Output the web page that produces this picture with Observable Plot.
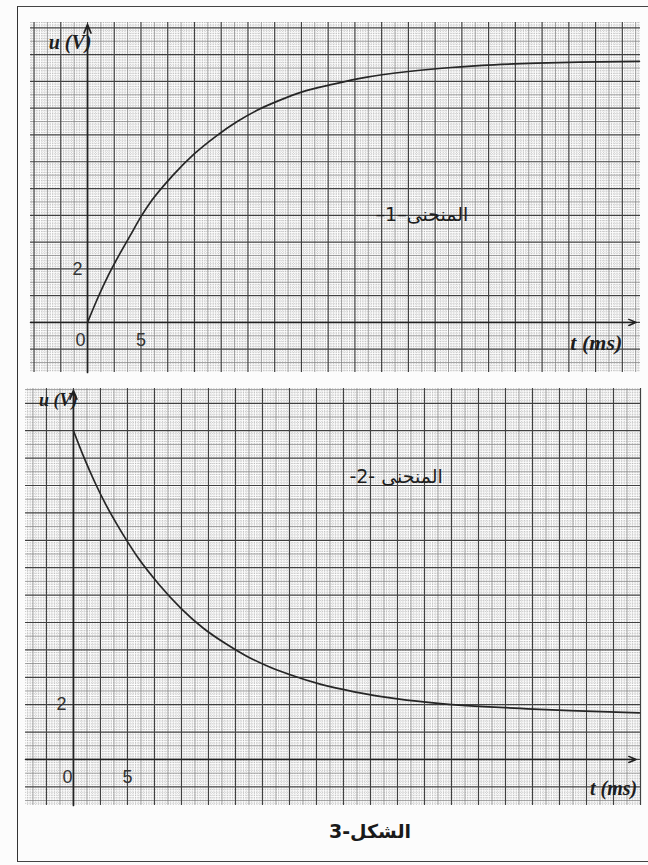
<!DOCTYPE html>
<html>
<head>
<meta charset="utf-8">
<script src="https://cdn.jsdelivr.net/npm/d3@7"></script>
<script src="https://cdn.jsdelivr.net/npm/@observablehq/plot@0.6"></script>
<style>
  body { margin: 0; background: #fff; }
  #page { position: relative; width: 648px; height: 865px; overflow: hidden; background: #fcfcfc; }
  #frame { position: absolute; left: 17px; top: 6px; width: 640px; height: 854px;
           border-left: 1.5px solid #333; border-top: 1.5px solid #444; border-bottom: 1.5px solid #444; }
  #topPanel { position: absolute; left: 0; top: 0; }
  #bottomPanel { position: absolute; left: 0; top: 380px; }
  #title { position: absolute; left: 270px; width: 200px; top: 820px; text-align: center;
           font: bold 19px "DejaVu Sans", sans-serif; color: #1a1a1a; }
</style>
</head>
<body>
<div id="page">
  <div id="frame"></div>
  <div id="topPanel"></div>
  <div id="bottomPanel"></div>
  <div id="title" dir="rtl">الشكل-3</div>
</div>
<script>
// ---- data ----
// Curve 1 (rising): time in ms, voltage in V
const t1 = [0, 1, 2, 3, 4, 5, 6, 8, 10, 12, 14, 16, 18, 20, 23, 26, 30, 34, 38, 42, 46, 51.6];
const u1 = [0, 0.95, 1.8, 2.55, 3.25, 3.95, 4.55, 5.5, 6.3, 6.95, 7.5, 7.95, 8.3, 8.6, 8.9, 9.15, 9.37, 9.52, 9.62, 9.68, 9.72, 9.75];
// Curve 2 (falling)
const t2 = [0, 1, 2, 3, 4, 5, 6, 8, 10, 12, 14, 16, 18, 20, 23, 26, 30, 34, 38, 42, 46, 52.4];
const u2 = [12.0, 11.0, 10.1, 9.3, 8.6, 7.95, 7.35, 6.35, 5.5, 4.8, 4.25, 3.78, 3.4, 3.1, 2.73, 2.47, 2.21, 2.04, 1.93, 1.85, 1.78, 1.70];
// tick labels
const xTicks = [0, 5];
const yTicks = [2];
const curveNames = ["المنحنى–1–", "المنحنى -2-"];
const yLabel = "u (V)";
const xLabel = "t (ms)";

function range(lo, hi, step) {
  return d3.range(Math.ceil(lo / step - 1e-9), Math.floor(hi / step + 1e-9) + 1).map(i => +(i * step).toFixed(6));
}

function panel({t, u, xDomain, yDomain, width, height, mt, mr, mb, ml, name, namePos, nameFont, uLabelPos, uFont, tLabelPos, tFont, zeroDx, yTickDx}) {
  const pts = t.map((d, i) => ({t: d, u: u[i]}));
  const [x0, x1] = xDomain, [y0, y1] = yDomain;
  const gridX = (step) => range(x0, x1, step);
  const gridY = (step) => range(y0, y1, step);
  const isMult = (v, s) => Math.abs(v / s - Math.round(v / s)) < 1e-6;
  const minorX = gridX(0.25).filter(v => !isMult(v, 1.25));
  const medX = gridX(1.25).filter(v => !isMult(v, 2.5));
  const majX = gridX(2.5);
  const minorY = gridY(0.1).filter(v => !isMult(v, 0.5));
  const medY = gridY(0.5).filter(v => !isMult(v, 1));
  const majY = gridY(1);
  const tickFont = {fontFamily: "Liberation Sans, Arial, sans-serif", fontSize: 18, fill: "#333"};
  return Plot.plot({
    width, height,
    marginTop: mt, marginRight: mr, marginBottom: mb, marginLeft: ml,
    x: {domain: xDomain, axis: null},
    y: {domain: yDomain, axis: null},
    style: {background: "transparent", overflow: "visible"},
    marks: [
      Plot.ruleX(minorX, {stroke: "#a4a4a4", strokeWidth: 0.55, strokeDasharray: "1.2,1"}),
      Plot.ruleY(minorY, {stroke: "#a4a4a4", strokeWidth: 0.55, strokeDasharray: "1.2,1"}),
      Plot.ruleX(medX, {stroke: "#7e7e7e", strokeWidth: 0.75}),
      Plot.ruleY(medY, {stroke: "#7e7e7e", strokeWidth: 0.75}),
      Plot.ruleX(majX, {stroke: "#404040", strokeWidth: 1.2}),
      Plot.ruleY(majY, {stroke: "#404040", strokeWidth: 1.2}),
      // axes with arrows
      Plot.arrow([{a: x0, b: 0, c: x1 - 0.4, d: 0}], {x1: "a", y1: "b", x2: "c", y2: "d", stroke: "#222", strokeWidth: 1.5, headLength: 8, headAngle: 45}),
      Plot.arrow([{a: 0, b: y0, c: 0, d: y1 - 0.08}], {x1: "a", y1: "b", x2: "c", y2: "d", stroke: "#222", strokeWidth: 1.7, headLength: 8, headAngle: 45}),
      // curve
      Plot.line(pts, {x: "t", y: "u", curve: "monotone-x", stroke: "#262626", strokeWidth: 1.7}),
      // tick labels
      ...xTicks.map(v => Plot.text([v], {x: d => d, y: 0, text: d => String(d), dy: 18, dx: v === 0 ? zeroDx : 0, ...tickFont})),
      ...yTicks.map(v => Plot.text([v], {x: 0, y: d => d, text: d => String(d), dx: yTickDx, ...tickFont})),
      // axis titles
      Plot.text([yLabel], {x: uLabelPos[0], y: uLabelPos[1], text: d => d, textAnchor: "end", dx: 4,
        fontFamily: "Liberation Serif, serif", fontStyle: "italic", fontWeight: "bold", fontSize: uFont, fill: "#1e1e1e"}),
      Plot.text([xLabel], {x: tLabelPos[0], y: tLabelPos[1], text: d => d, textAnchor: "end",
        fontFamily: "Liberation Serif, serif", fontStyle: "italic", fontWeight: "bold", fontSize: tFont, fill: "#1e1e1e"}),
      // curve name
      Plot.text([name], {x: namePos[0], y: namePos[1], text: d => d, textAnchor: "end",
        fontFamily: "DejaVu Sans, sans-serif", fontSize: nameFont, fill: "#1e1e1e"})
    ]
  });
}

const topChart = panel({
  t: t1, u: u1, xDomain: [-5.33, 51.7], yDomain: [-1.87, 11.2],
  width: 648, height: 380, mt: 22, mr: 8, mb: 8, ml: 30,
  name: curveNames[0], namePos: [35.6, 4.0], nameFont: 19,
  uLabelPos: [0, 10.45], uFont: 20, tLabelPos: [50, -0.78], tFont: 22,
  zeroDx: -7, yTickDx: -10
});
const bottomChart = panel({
  t: t2, u: u2, xDomain: [-4.44, 52.5], yDomain: [-1.68, 13.54],
  width: 648, height: 430, mt: 8, mr: 8, mb: 5, ml: 25,
  name: curveNames[1], namePos: [34.2, 10.3], nameFont: 19,
  uLabelPos: [0, 13.1], uFont: 18, tLabelPos: [52.2, -1.06], tFont: 20,
  zeroDx: -6, yTickDx: -12
});
for (const svg of [topChart, bottomChart]) {
  svg.querySelectorAll("text").forEach(el => {
    if (/[\u0600-\u06FF]/.test(el.textContent)) { el.setAttribute("direction", "rtl"); el.setAttribute("unicode-bidi", "embed"); el.setAttribute("text-anchor", "start"); }
  });
}
document.getElementById("topPanel").appendChild(topChart);
document.getElementById("bottomPanel").appendChild(bottomChart);
</script>
</body>
</html>
